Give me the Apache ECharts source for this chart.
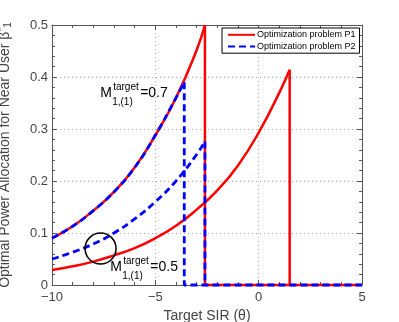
<!DOCTYPE html>
<html>
<head>
<meta charset="utf-8">
<script src="https://cdn.jsdelivr.net/npm/echarts@6/dist/echarts.min.js"></script>
<style>
  html, body { margin: 0; padding: 0; background: #fff; }
  #chart { width: 399px; height: 322px; }
</style>
</head>
<body>
<div id="chart"></div>
<script>
// target SIR (dB) samples and the allocations
const thetaUpper = [-10, -9, -8, -7, -6, -5, -4, -3, -2.6];
const p1Upper = [0.09, 0.113, 0.143, 0.179, 0.226, 0.288, 0.36, 0.452, 0.5];

const thetaP2Upper = [-10, -9, -8, -7, -6, -5, -4, -3.6];
const p2Upper = [0.09, 0.113, 0.143, 0.179, 0.226, 0.288, 0.36, 0.39];

const thetaP2Lower = [-10, -9, -8, -7, -6, -5, -4, -3, -2.6];
const p2Lower = [0.05, 0.063, 0.079, 0.1, 0.127, 0.16, 0.2, 0.251, 0.276];

const thetaP1Lower = [-10, -9, -8, -7, -6, -5, -4, -3, -2, -1, 0, 1, 1.5];
const p1Lower = [0.029, 0.036, 0.045, 0.057, 0.071, 0.09, 0.114, 0.145, 0.182, 0.23, 0.293, 0.37, 0.414];

const xTicks = [-10, -5, 0, 5];
const yTicks = [0, 0.1, 0.2, 0.3, 0.4, 0.5];

// annotations: [theta, value, M value]
const labels = [[-7.67, 0.369, '0.7'], [-7.18, 0.035, '0.5']];
const circleAt = [-7.65, 0.070];

const P1 = 'Optimization problem P1';
const P2 = 'Optimization problem P2';
const RED = '#ff0000';
const BLUE = '#0000ff';
const FONT = '"Liberation Sans", Arial, Helvetica, sans-serif';

const xMax = xTicks[xTicks.length - 1];

function pairs(xs, ys) {
  return xs.map((x, i) => [x, ys[i]]);
}
// vertical drop at the last point of a curve, optionally running along zero to the end
function drop(xs, ys, toEnd) {
  const x = xs[xs.length - 1], y = ys[ys.length - 1];
  const d = [[x, y], [x, 0]];
  if (toEnd) d.push([xMax, 0]);
  return d;
}
function minus(v) {
  return String(v).replace('-', '\u2212');
}

const curve = (name, data, color, dashed) => ({
  name: name,
  type: 'line',
  data: data,
  symbol: 'none',
  showSymbol: false,
  smooth: 0.5,
  clip: false,
  lineStyle: { color: color, width: dashed ? 2.8 : 2.5, type: dashed ? [7, 4] : 'solid' },
  itemStyle: { color: color }
});
const straight = (name, data, color, dashed) => Object.assign(curve(name, data, color, dashed), { smooth: false });

const tickColor = '#555';
const baseX = {
  type: 'value', min: xTicks[0], max: xMax, interval: 5,
  axisLine: { show: true, onZero: false, lineStyle: { color: tickColor, width: 1 } },
  axisTick: { show: true, inside: true, length: 5, lineStyle: { color: tickColor } },
  minorTick: { show: true, splitNumber: 5, length: 3, lineStyle: { color: tickColor } }
};
const baseY = {
  type: 'value', min: yTicks[0], max: yTicks[yTicks.length - 1], interval: 0.1,
  axisLine: { show: true, onZero: false, lineStyle: { color: tickColor, width: 1 } },
  axisTick: { show: true, inside: true, length: 5, lineStyle: { color: tickColor } },
  minorTick: { show: true, splitNumber: 5, length: 3, lineStyle: { color: tickColor } }
};

const chart = echarts.init(document.getElementById('chart'));
chart.setOption({
  animation: false,
  backgroundColor: '#fff',
  textStyle: { fontFamily: FONT },
  grid: { left: 52, right: 37, top: 25, bottom: 37, outerBoundsMode: 'none', containLabel: false },
  legend: {
    data: [P1, P2],
    orient: 'vertical',
    left: 222, top: 28,
    backgroundColor: '#fff',
    borderColor: '#000', borderWidth: 1, borderRadius: 0,
    padding: [2, 4, 2, 5],
    itemGap: 2, itemWidth: 27, itemHeight: 12,
    itemStyle: { opacity: 0 },
    textStyle: { fontSize: 9, color: '#000', fontFamily: FONT, padding: [0, 0, 0, -3] }
  },
  xAxis: [
    Object.assign({}, baseX, {
      position: 'bottom',
      name: 'Target SIR (\u03b8)', nameLocation: 'middle', nameGap: 24,
      nameTextStyle: { fontSize: 14, color: '#444', fontFamily: FONT },
      axisLabel: { color: '#444', fontSize: 13, margin: 6, fontFamily: FONT, formatter: minus },
      splitLine: { show: true, lineStyle: { color: '#aaa', type: [1, 3] } }
    }),
    Object.assign({}, baseX, {
      position: 'top', axisLabel: { show: false }, splitLine: { show: false }
    })
  ],
  yAxis: [
    Object.assign({}, baseY, {
      position: 'left',
      name: 'Optimal Power Allocation for Near User \u03b2{sup|*}{sub|1}',
      nameLocation: 'middle', nameGap: 39, nameRotate: 90,
      nameTextStyle: {
        fontSize: 14, color: '#444', fontFamily: FONT,
        rich: {
          sup: { fontSize: 10, color: '#444', verticalAlign: 'top', padding: [0, 0, 6, 0] },
          sub: { fontSize: 10, color: '#444', verticalAlign: 'bottom', padding: [6, 0, 0, 0] }
        }
      },
      axisLabel: { color: '#444', fontSize: 13, margin: 4, fontFamily: FONT, formatter: v => String(v) },
      splitLine: { show: true, lineStyle: { color: '#aaa', type: [1, 3] } }
    }),
    Object.assign({}, baseY, {
      position: 'right', axisLabel: { show: false }, splitLine: { show: false }
    })
  ],
  series: [
    curve(P1, pairs(thetaUpper, p1Upper), RED, false),
    straight(P1, drop(thetaUpper, p1Upper, true), RED, false),
    curve(P1, pairs(thetaP1Lower, p1Lower), RED, false),
    straight(P1, drop(thetaP1Lower, p1Lower, false), RED, false),
    curve(P2, pairs(thetaP2Upper, p2Upper), BLUE, true),
    straight(P2, drop(thetaP2Upper, p2Upper, true), BLUE, true),
    curve(P2, pairs(thetaP2Lower, p2Lower), BLUE, true),
    straight(P2, drop(thetaP2Lower, p2Lower, false), BLUE, true)
  ]
});

// M labels and the circle, placed from data coordinates
const graphics = [];
labels.forEach(([t, v, m]) => {
  const [px, py] = chart.convertToPixel({ gridIndex: 0 }, [t, v]);
  const txt = (x, y, s, size) => ({
    type: 'text', x: px + x, y: py + y,
    style: { text: s, fontSize: size, fill: '#000', fontFamily: FONT, verticalAlign: 'middle' }
  });
  graphics.push(txt(0, 0, 'M', 14));
  graphics.push(txt(13, -6, 'target', 10));
  graphics.push(txt(12, 9, '1,(1)', 10));
  graphics.push(txt(40, 0, '=' + m, 14));
});
const [cx, cy] = chart.convertToPixel({ gridIndex: 0 }, circleAt);
graphics.push({
  type: 'circle', shape: { cx: cx, cy: cy, r: 15.5 },
  style: { fill: 'none', stroke: '#000', lineWidth: 1.5 }, z: 10
});
chart.setOption({ graphic: graphics });
</script>
</body>
</html>
